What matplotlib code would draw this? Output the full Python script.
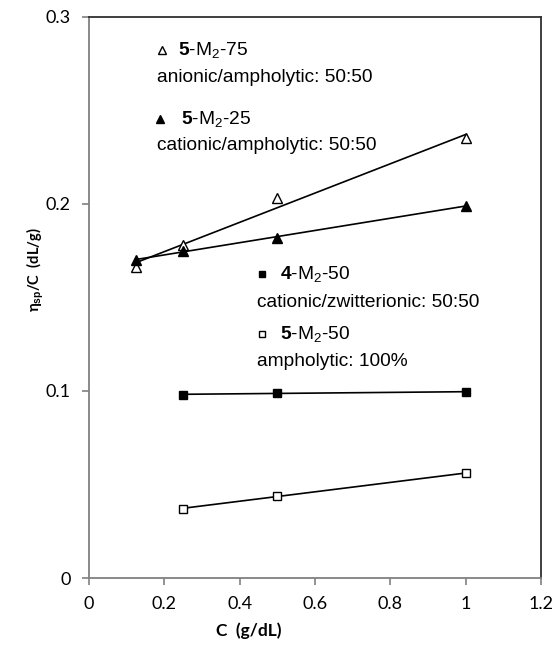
import numpy as np
import matplotlib
matplotlib.use('Agg')
import matplotlib.pyplot as plt

plt.rcParams['font.family'] = ['Liberation Sans', 'DejaVu Sans']
plt.rcParams['mathtext.fontset'] = 'custom'
plt.rcParams['mathtext.rm'] = 'Liberation Sans'
plt.rcParams['mathtext.it'] = 'Liberation Sans:italic'
plt.rcParams['mathtext.bf'] = 'Liberation Sans:bold'

# data
conc_tri = [0.125, 0.25, 0.5, 1.0]
m75 = [0.166, 0.178, 0.203, 0.235]   # open triangles, 5-M2-75
m25 = [0.170, 0.175, 0.182, 0.199]   # filled triangles, 5-M2-25
conc_sq = [0.25, 0.5, 1.0]
m50_4 = [0.098, 0.099, 0.0995]       # filled squares, 4-M2-50
m50_5 = [0.037, 0.044, 0.056]        # open squares, 5-M2-50

xticks = [0, 0.2, 0.4, 0.6, 0.8, 1.0, 1.2]
xticklabels = ['0', '0.2', '0.4', '0.6', '0.8', '1', '1.2']
yticks = [0, 0.1, 0.2, 0.3]
yticklabels = ['0', '0.1', '0.2', '0.3']

fig = plt.figure(figsize=(5.55, 6.47), dpi=100)
ax = fig.add_axes([0.160, 0.1066, 0.815, 0.8674])

series = [
    (conc_tri, m75, '^', 'white', 7),
    (conc_tri, m25, '^', 'black', 7),
    (conc_sq, m50_4, 's', 'black', 6),
    (conc_sq, m50_5, 's', 'white', 6),
]
for xs, ys, mk, fc, ms in series:
    xs = np.array(xs)
    k, b = np.polyfit(xs, ys, 1)
    xl = np.array([xs.min(), xs.max()])
    ax.plot(xl, k * xl + b, color='black', lw=1.2, zorder=2)
    ax.plot(xs, ys, ls='none', marker=mk, ms=ms, mfc=fc, mec='black', mew=1.0, zorder=3)

ax.set_xlim(0, 1.2)
ax.set_ylim(0, 0.3)
ax.set_xticks(xticks)
ax.set_xticklabels(xticklabels)
ax.set_yticks(yticks)
ax.set_yticklabels(yticklabels)
for lab in ax.get_xticklabels() + ax.get_yticklabels():
    lab.set_family(['Lato', 'DejaVu Sans'])
    lab.set_fontsize(13)
ax.tick_params(direction='out', length=5, color='#808080', width=1.2, pad=8)

ax.spines['left'].set_color('#808080')
ax.spines['bottom'].set_color('#808080')
ax.spines['top'].set_color('#303030')
ax.spines['right'].set_color('#303030')
for s in ax.spines.values():
    s.set_linewidth(1.3)

ax.set_xlabel('C  (g/dL)', fontsize=12.5, fontweight='bold', family=['Lato', 'DejaVu Sans'], va='center')
ax.xaxis.set_label_coords(0.354, -0.093)
ax.set_ylabel('η$_{\\mathbf{sp}}$/C  (dL/g)', fontsize=10.5, fontweight='bold', family=['Lato', 'DejaVu Sans'], va='center')
ax.yaxis.set_label_coords(-0.119, 0.549)

fs = 13.8
# legend-like annotations
ax.plot([0.194], [0.2825], ls='none', marker='^', ms=6, mfc='white', mec='black')
ax.text(0.236, 0.2825, '$\\mathbf{5}$-M$_2$-75', fontsize=fs, va='center')
ax.text(0.18, 0.2675, 'anionic/ampholytic: 50:50', fontsize=fs, va='center')
ax.plot([0.188], [0.2455], ls='none', marker='^', ms=6, mfc='black', mec='black')
ax.text(0.244, 0.2455, '$\\mathbf{5}$-M$_2$-25', fontsize=fs, va='center')
ax.text(0.18, 0.231, 'cationic/ampholytic: 50:50', fontsize=fs, va='center')
ax.plot([0.459], [0.1625], ls='none', marker='s', ms=5, mfc='black', mec='black')
ax.text(0.507, 0.1625, '$\\mathbf{4}$-M$_2$-50', fontsize=fs, va='center')
ax.text(0.445, 0.1475, 'cationic/zwitterionic: 50:50', fontsize=fs, va='center')
ax.plot([0.459], [0.1305], ls='none', marker='s', ms=5, mfc='white', mec='black')
ax.text(0.507, 0.1305, '$\\mathbf{5}$-M$_2$-50', fontsize=fs, va='center')
ax.text(0.445, 0.1155, 'ampholytic: 100%', fontsize=fs, va='center')

fig.savefig('out.png', dpi=100)
